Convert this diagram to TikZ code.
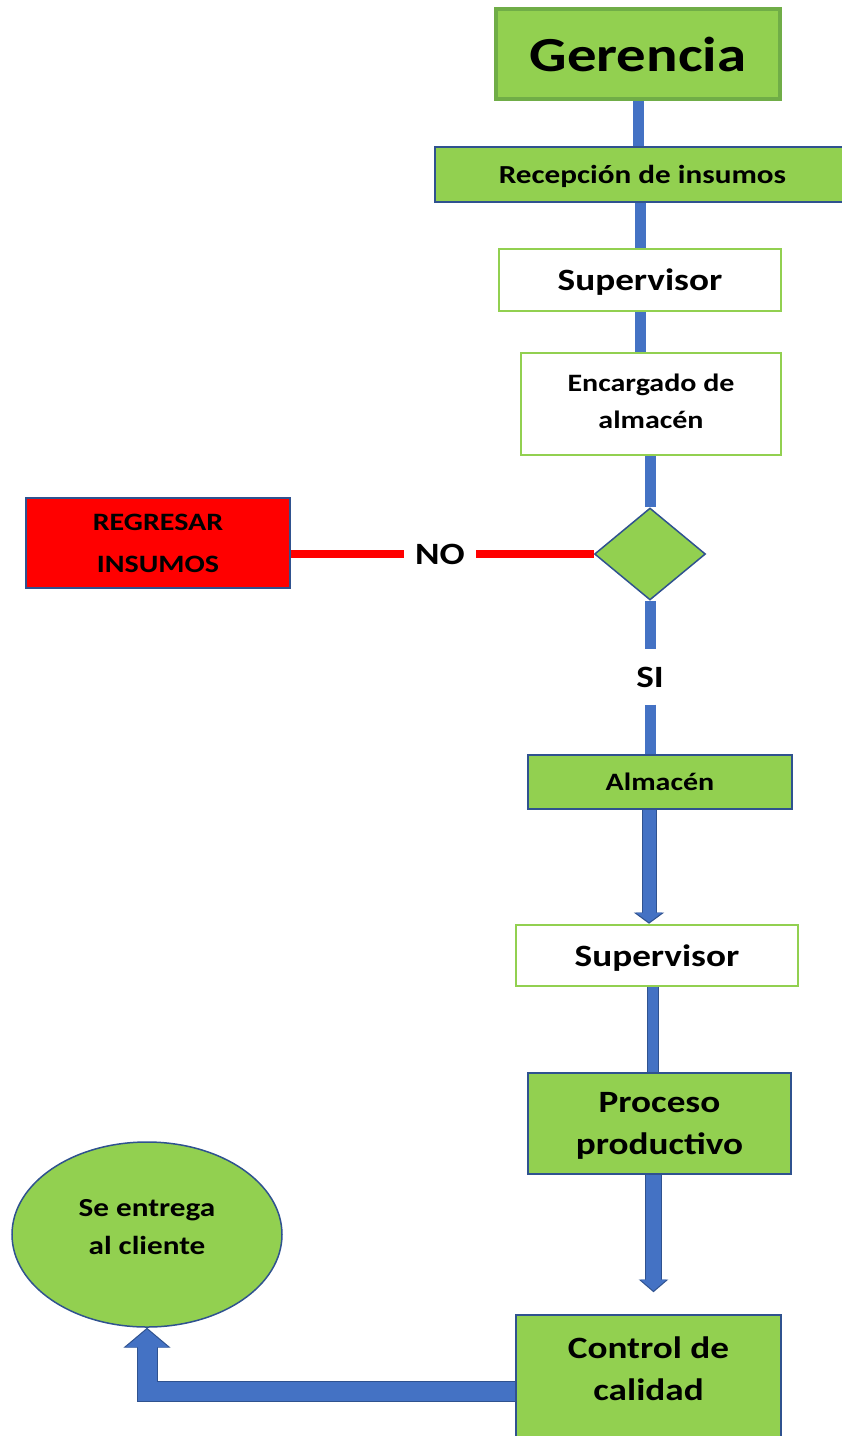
\documentclass[tikz,border=0pt]{standalone}
\usepackage{fontspec}
\setmainfont{Carlito}[FakeStretch=1.2]
\usetikzlibrary{arrows.meta,shapes.geometric}
\definecolor{ProcGreen}{HTML}{92D050}
\definecolor{ProcBlue}{HTML}{4472C4}
\definecolor{ProcNavy}{HTML}{2F528F}
\definecolor{ProcLeaf}{HTML}{70AD47}
\definecolor{ProcRed}{HTML}{FF0000}

\begin{document}
\begin{tikzpicture}[
  x=1pt, y=-1pt,
  greenbox/.style={draw=ProcNavy, line width=1.5pt, fill=ProcGreen, align=center, inner sep=0pt},
  whitebox/.style={draw=ProcGreen, line width=2.5pt, fill=white, align=center, inner sep=0pt},
  tag/.style={inner sep=0pt, font=\bfseries\fontsize{31}{36}\selectfont},
  link/.style={ProcBlue, line width=11pt},
  nolink/.style={ProcRed, line width=8pt},
  fatlink/.style={draw=ProcNavy, line width=#1+2pt, postaction={draw=ProcBlue, line width=#1}},
  fatarrow/.style n args={3}{draw=ProcNavy, line width=#1+2pt, -{Triangle[width=0pt #2, length=0pt #3]},
    postaction={draw=ProcBlue, line width=#1, shorten >=1.5pt, -{Triangle[width=0pt #2, length=0pt #3]}}}
]
\useasboundingbox (0,0) rectangle (842,1436);

\node[greenbox, draw=ProcLeaf, line width=4pt, minimum width=284pt, minimum height=90pt,
  font=\bfseries\fontsize{49}{56}\selectfont] (ger) at (638,54) {Gerencia};
\node[greenbox, minimum width=415pt, minimum height=55pt, text depth=0pt,
  font=\bfseries\fontsize{26}{30}\selectfont] (rec) at (642.5,174.5) {Recepción de insumos};
\node[whitebox, minimum width=282pt, minimum height=62pt, text depth=0pt,
  font=\bfseries\fontsize{31}{36}\selectfont] (sup1) at (640,280) {Supervisor};
\node[whitebox, minimum width=260pt, minimum height=102pt, text depth=6pt,
  font=\bfseries\fontsize{25}{37}\selectfont] (enc) at (651,404) {Encargado de\\almacén};
\node[diamond, draw=ProcNavy, line width=1.5pt, fill=ProcGreen, inner sep=0pt,
  minimum width=111pt, minimum height=92pt] (dec) at (650,554) {};
\node[greenbox, fill=ProcRed, minimum width=264pt, minimum height=90pt,
  font=\bfseries\fontsize{25}{42}\selectfont] (reg) at (158,543) {REGRESAR\\INSUMOS};
\node[tag, minimum width=72pt] (no) at (440,554) {NO};
\node[tag, minimum height=55pt] (si) at (650,677) {SI};
\node[greenbox, minimum width=264pt, minimum height=54pt,
  font=\bfseries\fontsize{25}{30}\selectfont] (alm) at (660,782) {Almacén};
\node[whitebox, minimum width=282pt, minimum height=61pt, text depth=0pt,
  font=\bfseries\fontsize{31}{36}\selectfont] (sup2) at (657,955.5) {Supervisor};
\node[greenbox, minimum width=263pt, minimum height=101pt, text depth=0pt,
  font=\bfseries\fontsize{31}{42}\selectfont] (proc) at (659.5,1123.5) {Proceso\\productivo};
\node[greenbox, minimum width=265pt, minimum height=126pt, text depth=18pt,
  font=\bfseries\fontsize{31}{42}\selectfont] (ctrl) at (648.5,1378) {Control de\\calidad};
\node[ellipse, draw=ProcNavy, line width=1.5pt, fill=ProcGreen, align=center, inner sep=0pt,
  minimum width=270pt, minimum height=185pt, text depth=16pt,
  font=\bfseries\fontsize{26}{38}\selectfont] (ent) at (147,1234.5) {Se entrega\\al cliente};

\draw[link] (ger.south) -- (ger.south |- rec.north);
\draw[link] (rec.south -| sup1) -- (sup1.north);
\draw[link] (sup1.south) -- (sup1.south |- enc.north);
\draw[link] (dec.north |- enc.south) -- (dec.north);
\draw[link] (dec.south) -- (si.north);
\draw[link] (si.south) -- (si.south |- alm.north);
\draw[nolink] (dec.west) -- (no.east);
\draw[nolink] (no.west) -- (no.west -| reg.east);

\coordinate (a1) at ([xshift=-11pt]alm.south);
\draw[fatarrow={13pt}{2}{0.75}] (a1) -- (a1 |- sup2.north);
\coordinate (s1) at ([xshift=-4pt]sup2.south);
\draw[fatlink=10pt] (s1) -- (s1 |- proc.north);
\coordinate (p1) at ([xshift=-6pt]proc.south);
\coordinate (c1) at ([yshift=22pt]ctrl.north);
\draw[fatarrow={15pt}{1.7}{0.75}] (p1) -- (p1 |- c1);
\coordinate (c2) at ([yshift=-13pt]ctrl.west);
\draw[fatarrow={19pt}{2.2}{0.95}] (c2) -| (ent.south);
\end{tikzpicture}
\end{document}
